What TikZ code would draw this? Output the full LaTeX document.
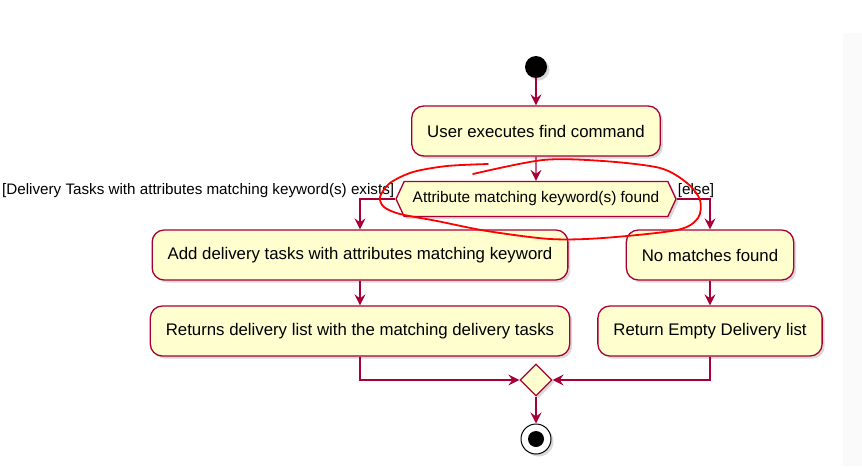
\documentclass[tikz,border=0pt]{standalone}
\usepackage{fontspec}
\setmainfont{Liberation Sans}
\usepackage{xcolor}
\usepackage{tikz}
\usetikzlibrary{arrows.meta,shapes.symbols,shapes.geometric,shadows}
\definecolor{umlred}{HTML}{A80036}
\definecolor{umlfill}{HTML}{FEFECE}
\tikzset{
  shade/.style={drop shadow={shadow xshift=2.5pt,shadow yshift=-2.5pt,opacity=0.3}},
  action/.style={draw=umlred,fill=umlfill,line width=1.3pt,rounded corners=12pt,minimum height=50pt,inner xsep=15.5pt,font=\fontsize{16.8}{20}\selectfont,shade},
  choice/.style={signal,signal to=west and east,signal pointer angle=130,draw=umlred,fill=umlfill,line width=1.3pt,minimum width=280pt,minimum height=35pt,inner sep=0pt,font=\fontsize{15.4}{18}\selectfont,shade},
  merge/.style={diamond,draw=umlred,fill=umlfill,line width=1.3pt,minimum size=32pt,inner sep=0pt,shade},
  flow/.style={draw=umlred,line width=1.3pt,-{Stealth[length=11pt,width=11pt,inset=4pt]}},
  guard/.style={font=\fontsize{15.2}{18}\selectfont,inner sep=0.5pt}
}
\begin{document}
\begin{tikzpicture}[x=1pt,y=-1pt]
\useasboundingbox (0,0) rectangle (862,466);
\fill[black!2] (843,33) rectangle (862,466);
\node[circle,fill=black,minimum size=22pt,inner sep=0pt,shade] (start) at (536,67) {};
\node[action] (find) at (536,131) {User executes find command};
\node[choice] (check) at (536,199) {Attribute matching keyword(s) found};
\node[action] (add) at (360,255) {Add delivery tasks with attributes matching keyword};
\node[action] (nomatch) at (710,255) {No matches found};
\node[action] (returns) at (360,331) {Returns delivery list with the matching delivery tasks};
\node[action] (empty) at (710,331) {Return Empty Delivery list};
\node[merge] (join) at (536,380) {};
\node[circle,draw=black,line width=1pt,fill=white,minimum size=30pt,inner sep=0pt,shade] (stop) at (536,439) {};
\fill (stop) circle (8pt);
\draw[flow] (start) -- (find);
\draw[flow] (find) -- (check);
\draw[flow] (check.west) -| node[pos=0,guard,anchor=south east] {[Delivery Tasks with attributes matching keyword(s) exists]} (add);
\draw[flow] (check.east) -| node[pos=0,guard,anchor=south west] {[else]} (nomatch);
\draw[flow] (add) -- (returns);
\draw[flow] (nomatch) -- (empty);
\draw[flow] (returns) |- (join);
\draw[flow] (empty) |- (join);
\draw[flow] (join) -- (stop);
\draw[red,line width=1.8pt,line cap=round] plot[smooth] coordinates {(488,164) (447,166) (413,172) (390,183) (380,197) (384,207) (400,214) (437,221) (487,231) (550,239) (603,238) (677,230) (698,218) (700,200) (687,183) (660,168) (603,161) (543,160) (473,174)};
\end{tikzpicture}
\end{document}
